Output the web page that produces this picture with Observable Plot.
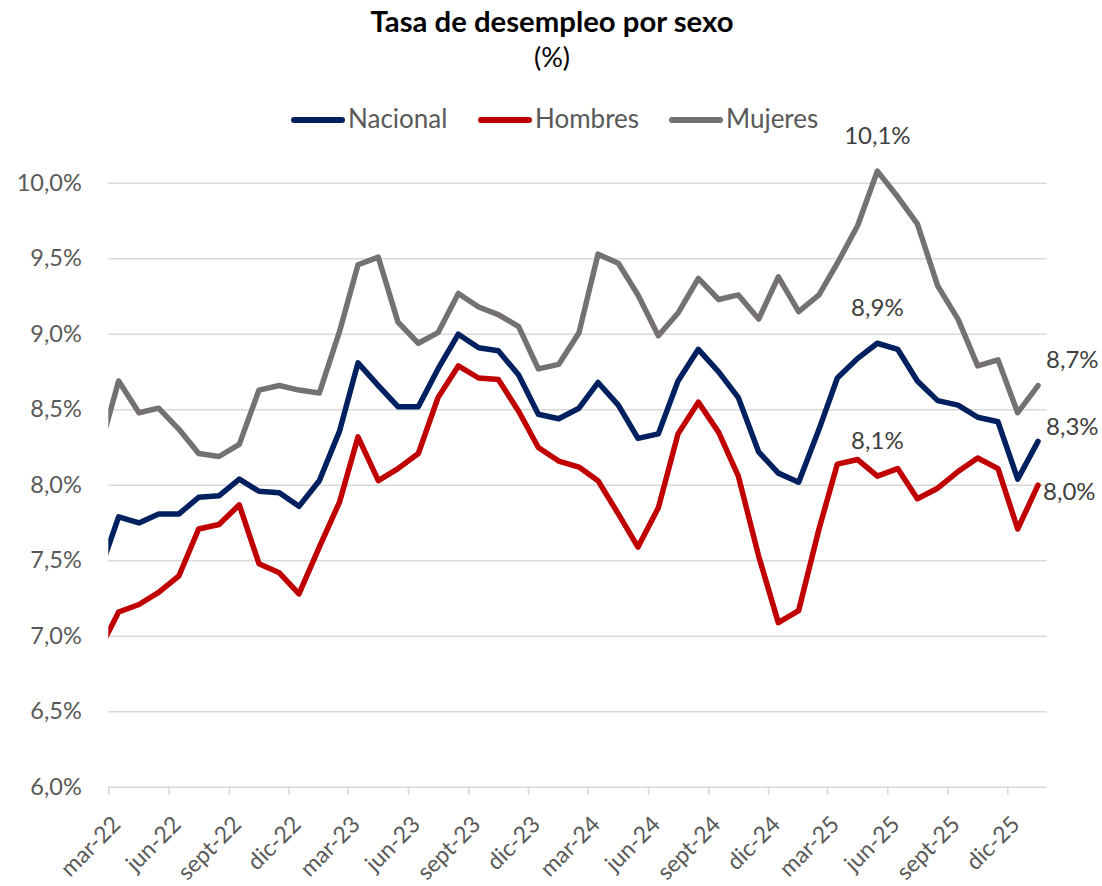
<!DOCTYPE html>
<html>
<head>
<meta charset="utf-8">
<script src="https://cdn.jsdelivr.net/npm/d3@7"></script>
<script src="https://cdn.jsdelivr.net/npm/@observablehq/plot@0.6"></script>
<style>
  html, body { margin: 0; padding: 0; background: #fff; }
  #chart { width: 1102px; height: 886px; overflow: hidden; font-family: Lato, "Open Sans", sans-serif; }
  #chart svg { display: block; }
</style>
</head>
<body>
<div id="chart"></div>
<script>
// ---------- data ----------
const periods = [
  "2022-02","2022-03","2022-04","2022-05","2022-06","2022-07","2022-08","2022-09","2022-10","2022-11","2022-12",
  "2023-01","2023-02","2023-03","2023-04","2023-05","2023-06","2023-07","2023-08","2023-09","2023-10","2023-11","2023-12",
  "2024-01","2024-02","2024-03","2024-04","2024-05","2024-06","2024-07","2024-08","2024-09","2024-10","2024-11","2024-12",
  "2025-01","2025-02","2025-03","2025-04","2025-05","2025-06","2025-07","2025-08","2025-09","2025-10","2025-11","2025-12",
  "2026-01"
];
const nacional = [
  7.44, 7.79, 7.75, 7.81, 7.81, 7.92, 7.93, 8.04, 7.96, 7.95, 7.86,
  8.03, 8.36, 8.81, 8.66, 8.52, 8.52, 8.77, 9.00, 8.91, 8.89, 8.73, 8.47,
  8.44, 8.51, 8.68, 8.53, 8.31, 8.34, 8.69, 8.90, 8.75, 8.58, 8.22, 8.08,
  8.02, 8.37, 8.71, 8.84, 8.94, 8.90, 8.69, 8.56, 8.53, 8.45, 8.42, 8.04,
  8.29
];
const hombres = [
  6.92, 7.16, 7.21, 7.29, 7.40, 7.71, 7.74, 7.87, 7.48, 7.42, 7.28,
  7.59, 7.89, 8.32, 8.03, 8.11, 8.21, 8.58, 8.79, 8.71, 8.70, 8.49, 8.25,
  8.16, 8.12, 8.03, 7.81, 7.59, 7.85, 8.34, 8.55, 8.35, 8.06, 7.53, 7.09,
  7.17, 7.71, 8.14, 8.17, 8.06, 8.11, 7.91, 7.98, 8.09, 8.18, 8.11, 7.71,
  8.00
];
const mujeres = [
  8.25, 8.69, 8.48, 8.51, 8.37, 8.21, 8.19, 8.27, 8.63, 8.66, 8.63,
  8.61, 9.02, 9.46, 9.51, 9.08, 8.94, 9.01, 9.27, 9.18, 9.13, 9.05, 8.77,
  8.80, 9.01, 9.53, 9.47, 9.26, 8.99, 9.14, 9.37, 9.23, 9.26, 9.10, 9.38,
  9.15, 9.26, 9.47, 9.72, 10.08, 9.91, 9.73, 9.32, 9.10, 8.79, 8.83, 8.48,
  8.66
];
const seriesNames = ["Nacional", "Hombres", "Mujeres"];
const seriesColors = ["#002060", "#C00000", "#767171"];
const yTicks = [6, 6.5, 7, 7.5, 8, 8.5, 9, 9.5, 10];
const tickPeriods = ["2022-03","2022-06","2022-09","2022-12","2023-03","2023-06","2023-09","2023-12",
                     "2024-03","2024-06","2024-09","2024-12","2025-03","2025-06","2025-09","2025-12"];
const tickLabels = ["mar-22","jun-22","sept-22","dic-22","mar-23","jun-23","sept-23","dic-23",
                    "mar-24","jun-24","sept-24","dic-24","mar-25","jun-25","sept-25","dic-25"];
const labelPeriods = ["2025-05", "2026-01"];
const titleText = "Tasa de desempleo por sexo";
const subtitleText = "(%)";

// ---------- helpers ----------
const midMonth = p => new Date(Date.UTC(+p.slice(0, 4), +p.slice(5, 7) - 1, 16));
const monthStart = p => new Date(Date.UTC(+p.slice(0, 4), +p.slice(5, 7) - 1, 1));
const valuesBySerie = {Nacional: nacional, Hombres: hombres, Mujeres: mujeres};
const rows = seriesNames.flatMap(s => periods.map((p, i) => ({period: p, date: midMonth(p), serie: s, value: valuesBySerie[s][i]})));
const fmt = v => v.toFixed(1).replace(".", ",") + "%";
const tickDates = tickPeriods.map(monthStart);
const tickRows = tickDates.map((d, i) => ({date: d, label: tickLabels[i]}));
const peakRows = rows.filter(r => r.period === labelPeriods[0]);
const lastRows = rows.filter(r => r.period === labelPeriods[1]);

const root = d3.select("#chart");

// ---------- header (title, subtitle, legend) ----------
const header = root.append("svg").attr("width", 1102).attr("height", 136)
  .style("font-family", "Lato, 'Open Sans', sans-serif");
header.append("text").attr("x", 552).attr("y", 32.3).attr("text-anchor", "middle")
  .attr("font-size", 29.3).attr("font-weight", 700).attr("fill", "#000").text(titleText);
header.append("text").attr("x", 552).attr("y", 66.7).attr("text-anchor", "middle")
  .attr("font-size", 27).attr("fill", "#000").text(subtitleText);
const legendX = [291, 478, 669];
seriesNames.forEach((s, i) => {
  const g = header.append("g").attr("transform", `translate(${legendX[i]},0)`);
  g.append("line").attr("x1", 3).attr("x2", 51).attr("y1", 120).attr("y2", 120)
    .attr("stroke", seriesColors[i]).attr("stroke-width", 6).attr("stroke-linecap", "round");
  g.append("text").attr("x", 57).attr("y", 128.3).attr("font-size", 26).attr("fill", "#595959").text(s);
});

// ---------- chart ----------
const chart = Plot.plot({
  width: 1102,
  height: 750,
  marginLeft: 108.3,
  marginRight: 55.3,
  marginTop: 1.4,
  marginBottom: 99.3,
  style: {background: "transparent", overflow: "visible", fontFamily: "Lato, 'Open Sans', sans-serif"},
  x: {type: "utc", domain: [new Date(Date.UTC(2022, 2, 1)), new Date(Date.UTC(2026, 0, 30))], label: null},
  y: {domain: [6, 10.3], label: null},
  color: {domain: seriesNames, range: seriesColors},
  marks: [
    Plot.ruleY(yTicks, {stroke: "#d9d9d9", strokeWidth: 1.6}),
    Plot.axisY({ticks: yTicks, tickSize: 0, tickPadding: 27, tickFormat: fmt, fill: "#595959", fontSize: 23.5, label: null}),
    Plot.axisX({ticks: tickDates, tickSize: 8, tickFormat: () => "", stroke: "#d9d9d9", strokeWidth: 1.6, label: null}),
    Plot.text(tickRows, {x: "date", y: 6, text: "label", rotate: -45, textAnchor: "end", lineAnchor: "middle",
      dx: 8, dy: 33.5, fill: "#595959", fontSize: 23}),
    Plot.line(rows, {x: "date", y: "value", z: "serie", stroke: "serie", strokeWidth: 5.5,
      strokeLinejoin: "round", strokeLinecap: "round", clip: true}),
    Plot.text(peakRows, {x: "date", y: "value", text: d => fmt(d.value), dy: -35, fill: "#404040", fontSize: 24}),
    Plot.text(lastRows.filter(d => d.serie === "Mujeres"), {x: "date", y: "value", text: d => fmt(d.value),
      textAnchor: "start", dx: 8, dy: -25, fill: "#404040", fontSize: 24}),
    Plot.text(lastRows.filter(d => d.serie === "Nacional"), {x: "date", y: "value", text: d => fmt(d.value),
      textAnchor: "start", dx: 8, dy: -14, fill: "#404040", fontSize: 24}),
    Plot.text(lastRows.filter(d => d.serie === "Hombres"), {x: "date", y: "value", text: d => fmt(d.value),
      textAnchor: "start", dx: 5, dy: 7, fill: "#404040", fontSize: 24})
  ]
});
root.node().appendChild(chart);
</script>
</body>
</html>
